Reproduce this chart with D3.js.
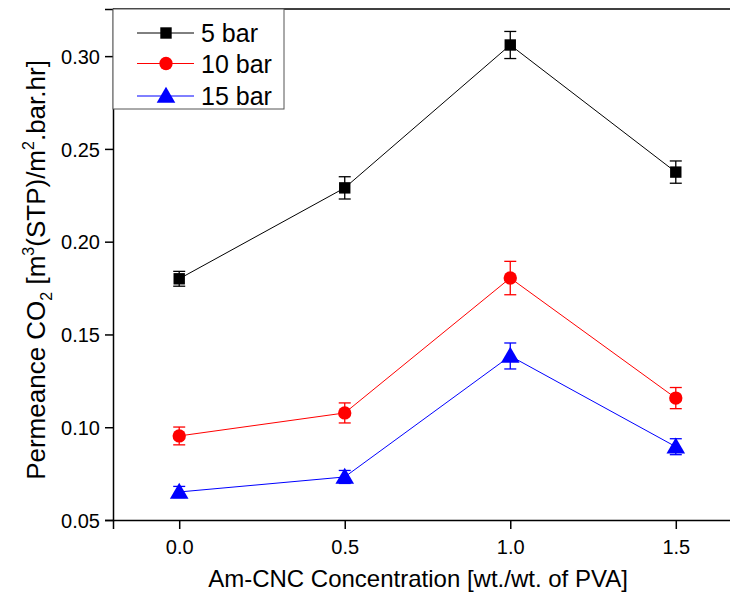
<!DOCTYPE html>
<html>
<head>
<meta charset="utf-8">
<script src="https://cdn.jsdelivr.net/npm/d3@7"></script>
<style>
  body { margin: 0; background: #fff; }
  svg { font-family: "Liberation Sans", Arial, sans-serif; }
</style>
</head>
<body>
<svg width="730" height="598"></svg>
<script>
const conc = [0.0, 0.5, 1.0, 1.5];
const xTicks = [0.0, 0.5, 1.0, 1.5];
const yTicks = [0.05, 0.10, 0.15, 0.20, 0.25, 0.30];

const series = ["5 bar", "10 bar", "15 bar"];
const colors = ["#000000", "#ff0000", "#0000ff"];
const shapes = [d3.symbolSquare, d3.symbolCircle, d3.symbolTriangle];
const sizes = [130, 140, 150];

const perm5 = [0.180, 0.229, 0.306, 0.2375];
const perm10 = [0.0953, 0.1077, 0.1804, 0.1157];
const perm15 = [0.0651, 0.0732, 0.1384, 0.0895];
const err5 = [0.004, 0.006, 0.0073, 0.006];
const err10 = [0.0048, 0.0054, 0.009, 0.0057];
const err15 = [0.003, 0.0035, 0.007, 0.0043];

const values = [perm5, perm10, perm15];
const errors = [err5, err10, err15];

const svg = d3.select("svg");
const pLeft = 113, pRight = 742, pTop = 9, pBottom = 520;

const x = d3.scaleLinear().domain([-0.2, 1.7]).range([pLeft, pRight]);
const y = d3.scaleLinear().domain([0.05, 0.3254]).range([pBottom, pTop]);

// frame top
svg.append("line")
  .attr("x1", pLeft).attr("x2", pRight)
  .attr("y1", pTop).attr("y2", pTop)
  .attr("stroke", "#000").attr("stroke-width", 1.5);

const xAxis = svg.append("g")
  .attr("transform", `translate(0,${pBottom})`)
  .call(d3.axisBottom(x).tickValues(xTicks).tickFormat(d3.format(".1f")).tickSize(9).tickPadding(11));
const yAxis = svg.append("g")
  .attr("transform", `translate(${pLeft},0)`)
  .call(d3.axisLeft(y).tickValues(yTicks).tickFormat(d3.format(".2f")).tickSize(8).tickPadding(5));

[xAxis, yAxis].forEach(g => {
  g.select(".domain").attr("stroke-width", 1.5);
  g.selectAll(".tick line").attr("stroke-width", 1.5);
  g.selectAll("text").attr("font-size", 20).attr("fill", "#000")
    .attr("font-family", "Liberation Sans, Arial, sans-serif");
});
yAxis.selectAll(".tick text").attr("dy", "0.36em");

// lines, error bars, markers
series.forEach((s, i) => {
  const pts = conc.map((c, j) => ({ c, v: values[i][j], e: errors[i][j] }));
  svg.append("path")
    .datum(pts)
    .attr("fill", "none")
    .attr("stroke", colors[i])
    .attr("stroke-width", 1)
    .attr("d", d3.line().x(d => x(d.c)).y(d => y(d.v)));

  const eb = svg.append("g").attr("stroke", colors[i]).attr("stroke-width", 1.3);
  eb.selectAll(".v").data(pts).enter().append("line")
    .attr("x1", d => x(d.c)).attr("x2", d => x(d.c))
    .attr("y1", d => y(d.v + d.e)).attr("y2", d => y(d.v - d.e));
  eb.selectAll(".t").data(pts).enter().append("line")
    .attr("x1", d => x(d.c) - 6).attr("x2", d => x(d.c) + 6)
    .attr("y1", d => y(d.v + d.e)).attr("y2", d => y(d.v + d.e));
  eb.selectAll(".b").data(pts).enter().append("line")
    .attr("x1", d => x(d.c) - 6).attr("x2", d => x(d.c) + 6)
    .attr("y1", d => y(d.v - d.e)).attr("y2", d => y(d.v - d.e));

  svg.append("g").selectAll("path").data(pts).enter().append("path")
    .attr("transform", d => `translate(${x(d.c)},${y(d.v) + (i === 2 ? 1.5 : 0)})`)
    .attr("d", d3.symbol().type(shapes[i]).size(sizes[i]))
    .attr("fill", colors[i]);
});

// legend
const leg = svg.append("g");
leg.append("rect")
  .attr("x", pLeft).attr("y", pTop)
  .attr("width", 171).attr("height", 100)
  .attr("fill", "#fff").attr("stroke", "#555").attr("stroke-width", 1);
const rowY = [33, 63.5, 96];
series.forEach((s, i) => {
  leg.append("line")
    .attr("x1", 137).attr("x2", 194)
    .attr("y1", rowY[i]).attr("y2", rowY[i])
    .attr("stroke", colors[i]).attr("stroke-width", 1);
  leg.append("path")
    .attr("transform", `translate(166,${rowY[i] + (i === 2 ? 1.5 : 0)})`)
    .attr("d", d3.symbol().type(shapes[i]).size(sizes[i]))
    .attr("fill", colors[i]);
  leg.append("text")
    .attr("x", 201).attr("y", rowY[i])
    .attr("dy", "0.36em")
    .attr("font-size", 25)
    .text(s);
});

// axis titles
svg.append("text")
  .attr("x", 418).attr("y", 587)
  .attr("text-anchor", "middle")
  .attr("font-size", 24)
  .text("Am-CNC Concentration [wt./wt. of PVA]");

const yt = svg.append("text")
  .attr("transform", `translate(45,270) rotate(-90)`)
  .attr("text-anchor", "middle")
  .attr("font-size", 26);
yt.append("tspan").text("Permeance CO");
yt.append("tspan").attr("font-size", 16).attr("dy", 7).text("2");
yt.append("tspan").attr("dy", -7).text(" [m");
yt.append("tspan").attr("font-size", 16).attr("dy", -11).text("3");
yt.append("tspan").attr("dy", 11).text("(STP)/m");
yt.append("tspan").attr("font-size", 16).attr("dy", -11).text("2");
yt.append("tspan").attr("dy", 11).text(".bar.hr]");
</script>
</body>
</html>
